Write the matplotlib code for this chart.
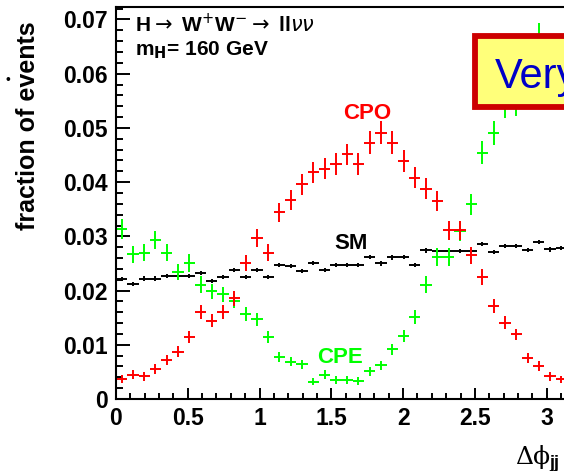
import numpy as np
import matplotlib
matplotlib.use('Agg')
import matplotlib.pyplot as plt
from matplotlib.patches import Rectangle

plt.rcParams['font.family'] = ['Liberation Sans', 'DejaVu Sans']

# 40 bins in delta phi from 0 to pi
n_bins = 40
phi_max = np.pi

sm_values = [0.0221, 0.0212, 0.0222, 0.0222, 0.0227, 0.0226, 0.0227, 0.0232, 0.0218, 0.0225,
             0.0238, 0.0225, 0.0238, 0.0225, 0.0247, 0.0245, 0.0236, 0.0251, 0.0238, 0.0247,
             0.0247, 0.0247, 0.0262, 0.0250, 0.0261, 0.0262, 0.0247, 0.0274, 0.0273, 0.0273,
             0.0273, 0.0273, 0.0286, 0.0271, 0.0282, 0.0282, 0.0275, 0.0290, 0.0276, 0.0279]
sm_err = 0.0004

cpo_values = [0.0037, 0.0045, 0.0042, 0.0056, 0.0072, 0.0087, 0.0115, 0.0160, 0.0144, 0.0160,
              0.0186, 0.0251, 0.0297, 0.0270, 0.0344, 0.0367, 0.0396, 0.0418, 0.0425, 0.0434,
              0.0451, 0.0433, 0.0473, 0.0491, 0.0473, 0.0439, 0.0408, 0.0388, 0.0365, 0.0311,
              0.0311, 0.0265, 0.0225, 0.0172, 0.0141, 0.0119, 0.0075, 0.0061, 0.0042, 0.0036]
cpo_err = [0.0008, 0.0008, 0.0008, 0.0009, 0.0009, 0.0010, 0.0011, 0.0013, 0.0012, 0.0013,
           0.0014, 0.0015, 0.0016, 0.0016, 0.0017, 0.0018, 0.0019, 0.0019, 0.0020, 0.0020,
           0.0020, 0.0020, 0.0021, 0.0021, 0.0021, 0.0020, 0.0019, 0.0019, 0.0018, 0.0017,
           0.0017, 0.0016, 0.0015, 0.0013, 0.0012, 0.0011, 0.0009, 0.0009, 0.0008, 0.0007]

# the last few CPE bins sit behind the overlay box of the slide
cpe_values = [0.0314, 0.0267, 0.0270, 0.0293, 0.0270, 0.0234, 0.0251, 0.0211, 0.0199, 0.0193,
              0.0180, 0.0157, 0.0147, 0.0115, 0.0077, 0.0069, 0.0064, 0.0032, 0.0045, 0.0035,
              0.0035, 0.0033, 0.0051, 0.0062, 0.0092, 0.0116, 0.0152, 0.0211, 0.0262, 0.0262,
              0.0310, 0.0359, 0.0454, 0.0491, 0.0541, 0.0545, 0.0600, 0.0668, 0.0620, 0.0612]
cpe_err = [0.0018, 0.0016, 0.0016, 0.0017, 0.0016, 0.0015, 0.0016, 0.0015, 0.0014, 0.0014,
           0.0013, 0.0013, 0.0012, 0.0011, 0.0009, 0.0009, 0.0008, 0.0007, 0.0008, 0.0007,
           0.0007, 0.0007, 0.0008, 0.0009, 0.0010, 0.0011, 0.0013, 0.0015, 0.0016, 0.0016,
           0.0018, 0.0019, 0.0021, 0.0022, 0.0023, 0.0023, 0.0024, 0.0025, 0.0025, 0.0025]

W, H = 564, 471


def fx(px):
    return px / W


def fy(py):
    return 1 - py / H


fig = plt.figure(figsize=(W / 100, H / 100), dpi=100)
# axes run a little past the right edge of the picture (cropped slide)
ax = fig.add_axes([fx(116), fy(399), (567 - 116) / W, (399 - 7) / H])

edges = np.linspace(0, phi_max, n_bins + 1)
centers = 0.5 * (edges[:-1] + edges[1:])
half_bin = 0.5 * (edges[1] - edges[0])

ax.errorbar(centers, sm_values, yerr=sm_err, xerr=half_bin, fmt='none',
            ecolor='black', elinewidth=1.4, capsize=0)
ax.errorbar(centers, cpe_values, yerr=cpe_err, xerr=half_bin, fmt='none',
            ecolor='#00ff00', elinewidth=1.4, capsize=0)
ax.errorbar(centers, cpo_values, yerr=cpo_err, xerr=half_bin, fmt='none',
            ecolor='#ff0000', elinewidth=1.4, capsize=0)

ax.set_xlim(0, phi_max)
ax.set_ylim(0, 0.0723)

ax.set_xticks([0, 0.5, 1, 1.5, 2, 2.5, 3])
ax.set_xticklabels(['0', '0.5', '1', '1.5', '2', '2.5', '3'])
ax.set_xticks(np.arange(0, 3.15, 0.1), minor=True)
ax.set_yticks([0, 0.01, 0.02, 0.03, 0.04, 0.05, 0.06, 0.07])
ax.set_yticklabels(['0', '0.01', '0.02', '0.03', '0.04', '0.05', '0.06', '0.07'])
ax.set_yticks(np.arange(0, 0.0721, 0.002), minor=True)

ax.tick_params(axis='both', which='both', direction='in', width=1.4,
               labelsize=16.5, top=False, right=False)
ax.tick_params(axis='y', which='major', length=10, pad=6)
ax.tick_params(axis='y', which='minor', length=5)
ax.tick_params(axis='x', which='major', length=8, pad=6)
ax.tick_params(axis='x', which='minor', length=4)
for lab in ax.get_xticklabels() + ax.get_yticklabels():
    lab.set_fontweight('bold')
for s in ax.spines.values():
    s.set_linewidth(1.5)

# curve labels
ax.text(1.748, 0.0527, 'CPO', color='#ff0000', fontsize=16, fontweight='bold',
        ha='center', va='center')
ax.text(1.636, 0.0286, 'SM', color='black', fontsize=16, fontweight='bold',
        ha='center', va='center')
ax.text(1.560, 0.0076, 'CPE', color='#00ff00', fontsize=16, fontweight='bold',
        ha='center', va='center')

# process text
fig.text(fx(135), fy(32), r'H$\rightarrow$ W$^{+}$W$^{-}$$\rightarrow$ ll$\nu\nu$',
         fontsize=15, fontweight='bold', ha='left', va='baseline')
fig.text(fx(135), fy(55), r'm$_{\mathbf{H}}$= 160 GeV',
         fontsize=15, fontweight='bold', ha='left', va='baseline')

# axis titles
fig.text(fx(28), fy(126), 'fraction of events', rotation=90, fontsize=18,
         fontweight='bold', ha='center', va='center')
fig.text(fx(515), fy(464), '\u0394\u03d5', family=['DejaVu Serif', 'Liberation Serif'],
         fontsize=18, ha='left', va='baseline')
fig.text(fx(549), fy(468), 'jj', fontsize=13, fontweight='bold',
         ha='left', va='baseline')

# bullet from the slide
fig.text(fx(8), fy(80), '\u2022', fontsize=10, ha='center', va='center')

# overlay box from the slide
box = Rectangle((fx(475), fy(106.5)), fx(640) - fx(475), fy(36) - fy(106.5),
                transform=fig.transFigure, facecolor='#ffff7a', edgecolor='#cc0000',
                linewidth=4.2, zorder=10)
fig.patches.append(box)
fig.text(fx(495), fy(88), 'Very', color='#0000c8', fontsize=30,
         ha='left', va='baseline', zorder=11)

fig.savefig('out.png', dpi=100)
